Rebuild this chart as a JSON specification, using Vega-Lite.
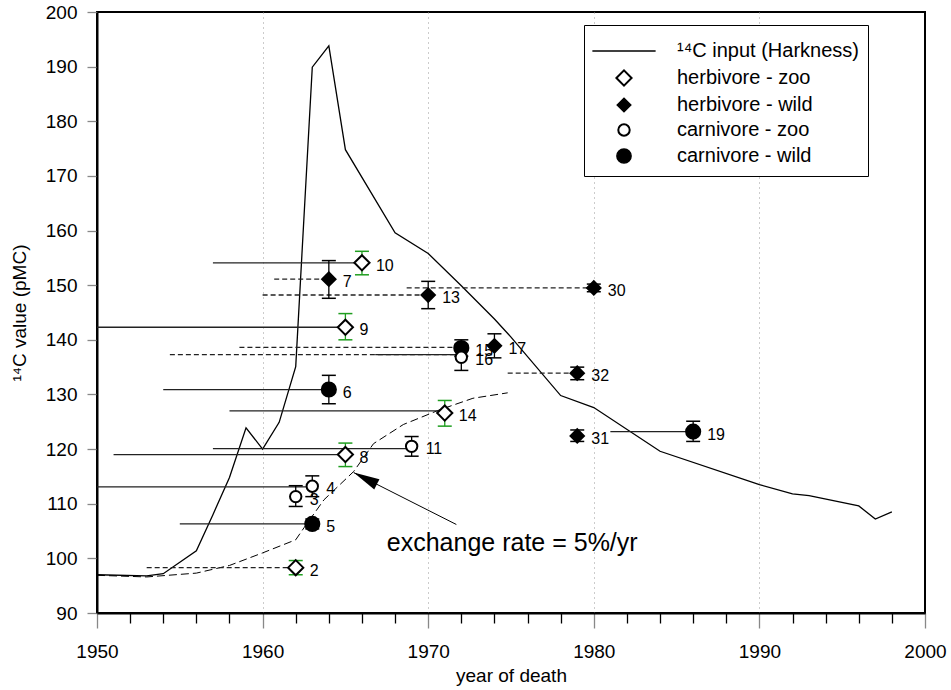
{
  "$schema": "https://vega.github.io/schema/vega-lite/v6.json",
  "width": 828,
  "height": 601,
  "autosize": {"type": "none"},
  "padding": {"left": 97, "top": 12, "right": 26, "bottom": 77},
  "background": "white",
  "config": {
    "view": {"stroke": "black", "strokeWidth": 2},
    "font": "Liberation Sans",
    "axis": {
      "labelFont": "Liberation Sans",
      "titleFont": "Liberation Sans",
      "labelColor": "black",
      "titleColor": "black",
      "titleFontWeight": "normal",
      "domainColor": "black",
      "domainWidth": 2,
      "labelFontSize": 19,
      "titleFontSize": 19,
      "labelOverlap": false
    }
  },
  "datasets": {
    "harkness": [
      {"year": 1950, "value": 97.0}, {"year": 1953, "value": 96.8}, {"year": 1954, "value": 97.2},
      {"year": 1956, "value": 101.4}, {"year": 1957, "value": 108.0}, {"year": 1958, "value": 114.8},
      {"year": 1959, "value": 123.9}, {"year": 1960, "value": 120.0}, {"year": 1961, "value": 124.9},
      {"year": 1962, "value": 135.1}, {"year": 1963, "value": 189.9}, {"year": 1964, "value": 193.8},
      {"year": 1965, "value": 174.8}, {"year": 1968, "value": 159.6}, {"year": 1970, "value": 155.8},
      {"year": 1972, "value": 149.9}, {"year": 1974, "value": 143.8}, {"year": 1975, "value": 140.5},
      {"year": 1978, "value": 129.8}, {"year": 1980, "value": 127.6}, {"year": 1984, "value": 119.6},
      {"year": 1990, "value": 113.5}, {"year": 1992, "value": 111.8}, {"year": 1993, "value": 111.5},
      {"year": 1996, "value": 109.6}, {"year": 1997, "value": 107.2}, {"year": 1998, "value": 108.5}
    ],
    "exchange": [
      {"year": 1950, "value": 96.9}, {"year": 1953, "value": 96.6}, {"year": 1956, "value": 97.3},
      {"year": 1958, "value": 98.7}, {"year": 1960, "value": 101.0}, {"year": 1962, "value": 103.4},
      {"year": 1962.5, "value": 105.6}, {"year": 1963.7, "value": 110.7}, {"year": 1965.5, "value": 115.9},
      {"year": 1966.7, "value": 121.0}, {"year": 1968.5, "value": 124.5}, {"year": 1970.7, "value": 127.2},
      {"year": 1972.7, "value": 129.3}, {"year": 1974.8, "value": 130.3}
    ],
    "points": [
      {"n": "2", "year": 1962, "value": 98.3, "lo": 97.0, "hi": 99.6, "group": "herbivore - zoo"},
      {"n": "3", "year": 1962, "value": 111.3, "lo": 109.5, "hi": 113.3, "group": "carnivore - zoo"},
      {"n": "4", "year": 1963, "value": 113.2, "lo": 111.3, "hi": 115.1, "group": "carnivore - zoo"},
      {"n": "5", "year": 1963, "value": 106.3, "lo": 105.4, "hi": 107.2, "group": "carnivore - wild"},
      {"n": "6", "year": 1964, "value": 130.9, "lo": 128.3, "hi": 133.5, "group": "carnivore - wild"},
      {"n": "7", "year": 1964, "value": 151.1, "lo": 147.6, "hi": 154.5, "group": "herbivore - wild"},
      {"n": "8", "year": 1965, "value": 119.0, "lo": 116.8, "hi": 121.1, "group": "herbivore - zoo"},
      {"n": "9", "year": 1965, "value": 142.3, "lo": 140.0, "hi": 144.8, "group": "herbivore - zoo"},
      {"n": "10", "year": 1966, "value": 154.1, "lo": 151.9, "hi": 156.2, "group": "herbivore - zoo"},
      {"n": "11", "year": 1969, "value": 120.5, "lo": 118.7, "hi": 122.3, "group": "carnivore - zoo"},
      {"n": "13", "year": 1970, "value": 148.2, "lo": 145.7, "hi": 150.7, "group": "herbivore - wild"},
      {"n": "14", "year": 1971, "value": 126.6, "lo": 124.2, "hi": 128.9, "group": "herbivore - zoo"},
      {"n": "15", "year": 1972, "value": 138.5, "lo": 137.0, "hi": 140.0, "group": "carnivore - wild"},
      {"n": "16", "year": 1972, "value": 136.8, "lo": 134.4, "hi": 139.2, "group": "carnivore - zoo"},
      {"n": "17", "year": 1974, "value": 138.9, "lo": 136.7, "hi": 141.1, "group": "herbivore - wild"},
      {"n": "19", "year": 1986, "value": 123.2, "lo": 121.4, "hi": 125.1, "group": "carnivore - wild"},
      {"n": "30", "year": 1980, "value": 149.5, "lo": 148.8, "hi": 150.2, "group": "herbivore - wild"},
      {"n": "31", "year": 1979, "value": 122.4, "lo": 121.4, "hi": 123.5, "group": "herbivore - wild"},
      {"n": "32", "year": 1979, "value": 133.9, "lo": 132.7, "hi": 135.0, "group": "herbivore - wild"}
    ],
    "segments": [
      {"n": "2", "start": 1953.0, "year": 1962, "value": 98.3, "dating": "estimated"},
      {"n": "4", "start": 1950.0, "year": 1963, "value": 113.1, "dating": "known"},
      {"n": "5", "start": 1955.0, "year": 1963, "value": 106.3, "dating": "known"},
      {"n": "6", "start": 1954.0, "year": 1964, "value": 130.9, "dating": "known"},
      {"n": "7", "start": 1960.7, "year": 1964, "value": 151.1, "dating": "estimated"},
      {"n": "8", "start": 1951.0, "year": 1965, "value": 119.0, "dating": "known"},
      {"n": "9", "start": 1950.0, "year": 1965, "value": 142.3, "dating": "known"},
      {"n": "10", "start": 1957.0, "year": 1966, "value": 154.1, "dating": "known"},
      {"n": "11", "start": 1957.0, "year": 1969, "value": 120.1, "dating": "known"},
      {"n": "13", "start": 1960.0, "year": 1970, "value": 148.2, "dating": "estimated"},
      {"n": "14", "start": 1958.0, "year": 1971, "value": 127.0, "dating": "known"},
      {"n": "15", "start": 1958.6, "year": 1972, "value": 138.6, "dating": "estimated"},
      {"n": "15b", "start": 1954.4, "year": 1972, "value": 137.3, "dating": "estimated"},
      {"n": "16", "start": 1966.8, "year": 1972, "value": 137.3, "dating": "known"},
      {"n": "19", "start": 1981.0, "year": 1986, "value": 123.2, "dating": "known"},
      {"n": "30", "start": 1968.7, "year": 1980, "value": 149.5, "dating": "estimated"},
      {"n": "32", "start": 1974.8, "year": 1979, "value": 133.9, "dating": "estimated"}
    ],
    "arrow": [
      {"year": 1971.7, "value": 106.2, "tipyear": 1965.5, "tipvalue": 115.7}
    ],
    "note": [
      {"year": 1967.5, "value": 102.8, "label": "exchange rate = 5%/yr"}
    ]
  },
  "layer": [
    {
      "data": {"name": "harkness"},
      "mark": {"type": "line", "color": "black", "strokeWidth": 1.3},
      "encoding": {
        "x": {
          "field": "year", "type": "quantitative", "title": "year of death",
          "scale": {"domain": [1950, 2000], "nice": false, "zero": false},
          "axis": {
            "tickCount": 25,
            "format": "d",
            "labelExpr": "datum.value % 10 === 0 ? datum.label : ''",
            "tickSize": {"condition": {"test": "datum.value % 10 === 0", "value": 15}, "value": 10},
            "tickColor": {"condition": {"test": "datum.value % 10 === 0", "value": "#888888"}, "value": "black"},
            "tickWidth": 1.3,
            "labelPadding": 14,
            "labelFlush": false,
            "labelOverlap": false,
            "labelBound": false,
            "titlePadding": 5,
            "grid": true,
            "gridColor": "#999999",
            "gridDash": [1, 4],
            "gridWidth": 1,
            "gridOpacity": {"condition": {"test": "datum.value % 10 === 0 && datum.value > 1950 && datum.value < 2000", "value": 1}, "value": 0}
          }
        },
        "y": {
          "field": "value", "type": "quantitative", "title": "¹⁴C value (pMC)",
          "scale": {"domain": [90, 200], "nice": false, "zero": false},
          "axis": {
            "values": [90,100,110,120,130,140,150,160,170,180,190,200],
            "tickSize": 10,
            "tickColor": "#888888",
            "tickWidth": 1.3,
            "labelPadding": 10,
            "titlePadding": 16,
            "grid": false
          }
        }
      }
    },
    {
      "data": {"name": "exchange"},
      "mark": {"type": "line", "color": "black", "strokeWidth": 1, "strokeDash": [8, 4]},
      "encoding": {
        "x": {"field": "year", "type": "quantitative"},
        "y": {"field": "value", "type": "quantitative"}
      }
    },
    {
      "data": {"name": "segments"},
      "mark": {"type": "rule", "color": "#222222", "strokeWidth": 1.3},
      "encoding": {
        "x": {"field": "start", "type": "quantitative"},
        "x2": {"field": "year"},
        "y": {"field": "value", "type": "quantitative"},
        "strokeDash": {"field": "dating", "type": "nominal", "scale": {"domain": ["estimated", "known"], "range": [[5, 3], [1, 0]]}, "legend": null}
      }
    },
    {
      "data": {"name": "arrow"},
      "mark": {"type": "rule", "color": "black", "strokeWidth": 1},
      "encoding": {
        "x": {"field": "year", "type": "quantitative"},
        "y": {"field": "value", "type": "quantitative"},
        "x2": {"field": "tipyear"},
        "y2": {"field": "tipvalue"}
      }
    },
    {
      "data": {"name": "arrow"},
      "mark": {"type": "point", "shape": "M0,0L0.35,1.6L-0.35,1.6Z", "size": 1056, "angle": 297, "filled": true, "color": "black", "opacity": 1},
      "encoding": {
        "x": {"field": "tipyear", "type": "quantitative"},
        "y": {"field": "tipvalue", "type": "quantitative"}
      }
    },
    {
      "data": {"name": "note"},
      "mark": {"type": "text", "align": "left", "baseline": "middle", "fontSize": 25, "font": "Liberation Sans", "color": "black"},
      "encoding": {
        "x": {"field": "year", "type": "quantitative"},
        "y": {"field": "value", "type": "quantitative"},
        "text": {"field": "label"}
      }
    },
    {
      "data": {"name": "points"},
      "mark": {"type": "rule", "strokeWidth": 1.3},
      "encoding": {
        "x": {"field": "year", "type": "quantitative"},
        "y": {"field": "lo", "type": "quantitative"},
        "y2": {"field": "hi"},
        "color": {"condition": {"test": "datum.group === 'herbivore - zoo'", "value": "#1f9e1f"}, "value": "black"}
      }
    },
    {
      "data": {"name": "points"},
      "mark": {"type": "tick", "orient": "horizontal", "size": 14, "thickness": 1.5, "opacity": 1},
      "encoding": {
        "x": {"field": "year", "type": "quantitative"},
        "y": {"field": "lo", "type": "quantitative"},
        "color": {"condition": {"test": "datum.group === 'herbivore - zoo'", "value": "#1f9e1f"}, "value": "black"}
      }
    },
    {
      "data": {"name": "points"},
      "mark": {"type": "tick", "orient": "horizontal", "size": 14, "thickness": 1.5, "opacity": 1},
      "encoding": {
        "x": {"field": "year", "type": "quantitative"},
        "y": {"field": "hi", "type": "quantitative"},
        "color": {"condition": {"test": "datum.group === 'herbivore - zoo'", "value": "#1f9e1f"}, "value": "black"}
      }
    },
    {
      "data": {"name": "points"},
      "mark": {"type": "point", "filled": true, "stroke": "black", "strokeWidth": 2, "opacity": 1},
      "encoding": {
        "x": {"field": "year", "type": "quantitative"},
        "y": {"field": "value", "type": "quantitative"},
        "size": {"condition": [
          {"test": "datum.group === 'herbivore - zoo'", "value": 230},
          {"test": "datum.group === 'herbivore - wild'", "value": 180},
          {"test": "datum.group === 'carnivore - zoo'", "value": 130}
        ], "value": 200},
        "shape": {
          "field": "group", "type": "nominal",
          "scale": {"domain": ["¹⁴C input (Harkness)", "herbivore - zoo", "herbivore - wild", "carnivore - zoo", "carnivore - wild"], "range": ["stroke", "diamond", "diamond", "circle", "circle"]},
          "legend": {
            "orient": "none", "legendX": 487, "legendY": 13, "title": " ", "titleFontSize": 7, "titlePadding": 0,
            "strokeColor": "black", "fillColor": "white", "padding": 9,
            "labelFontSize": 20, "labelFont": "Liberation Sans", "labelColor": "black", "labelLimit": 0,
            "labelOffset": 20, "rowPadding": 5, "symbolSize": 4000,
            "symbolStrokeColor": "black", "symbolStrokeWidth": 1.6, "symbolOpacity": 1,
            "encode": {
              "symbols": {"update": {
                "x": {"value": 31},
                "size": {"signal": "datum.value === 'herbivore - zoo' ? 230 : datum.value === 'herbivore - wild' ? 180 : datum.value === 'carnivore - zoo' ? 130 : datum.value === 'carnivore - wild' ? 200 : 4000"},
                "stroke": {"value": "black"},
                "strokeWidth": {"signal": "datum.value === 'herbivore - zoo' || datum.value === 'carnivore - zoo' ? 2 : 1.6"},
                "opacity": {"value": 1}
              }},
              "labels": {"update": {"x": {"value": 84}}}
            }
          }
        },
        "fill": {
          "field": "group", "type": "nominal",
          "scale": {"domain": ["¹⁴C input (Harkness)", "herbivore - zoo", "herbivore - wild", "carnivore - zoo", "carnivore - wild"], "range": ["black", "white", "black", "white", "black"]},
          "legend": {
            "orient": "none", "legendX": 487, "legendY": 13, "title": " ", "titleFontSize": 7, "titlePadding": 0,
            "strokeColor": "black", "fillColor": "white", "padding": 9,
            "labelFontSize": 20, "labelFont": "Liberation Sans", "labelColor": "black", "labelLimit": 0,
            "labelOffset": 20, "rowPadding": 5, "symbolSize": 4000,
            "symbolStrokeColor": "black", "symbolStrokeWidth": 1.6, "symbolOpacity": 1,
            "encode": {
              "symbols": {"update": {
                "x": {"value": 31},
                "size": {"signal": "datum.value === 'herbivore - zoo' ? 230 : datum.value === 'herbivore - wild' ? 180 : datum.value === 'carnivore - zoo' ? 130 : datum.value === 'carnivore - wild' ? 200 : 4000"},
                "stroke": {"value": "black"},
                "strokeWidth": {"signal": "datum.value === 'herbivore - zoo' || datum.value === 'carnivore - zoo' ? 2 : 1.6"},
                "opacity": {"value": 1}
              }},
              "labels": {"update": {"x": {"value": 84}}}
            }
          }
        }
      }
    },
    {
      "data": {"name": "points"},
      "mark": {"type": "text", "align": "left", "baseline": "middle", "dx": 14, "dy": 3, "fontSize": 16, "font": "Liberation Sans", "color": "black"},
      "encoding": {
        "x": {"field": "year", "type": "quantitative"},
        "y": {"field": "value", "type": "quantitative"},
        "text": {"field": "n"}
      }
    }
  ]
}
